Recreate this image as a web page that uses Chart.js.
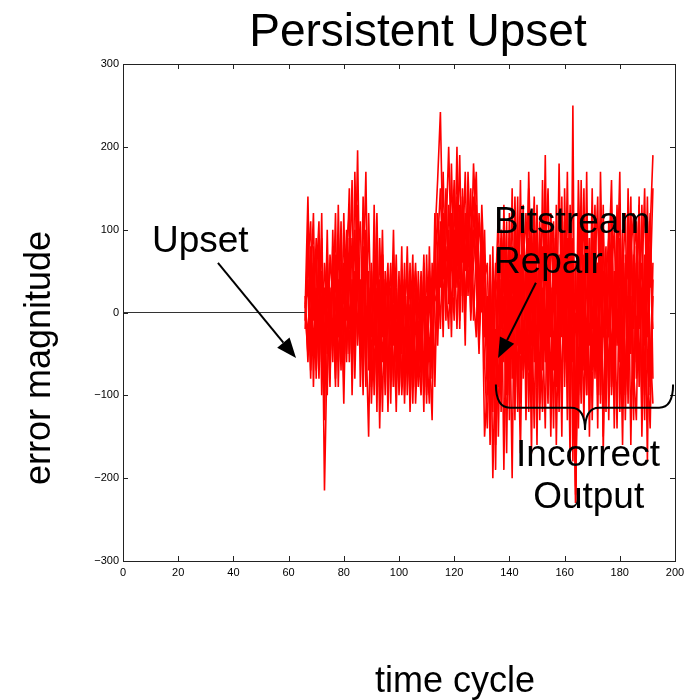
<!DOCTYPE html>
<html>
<head>
<meta charset="utf-8">
<script src="https://cdn.jsdelivr.net/npm/chart.js@4"></script>
<style>
  html, body { margin: 0; padding: 0; background: #fff; }
  #wrap { width: 690px; height: 700px; }
</style>
</head>
<body>
<div id="wrap"><canvas id="chart" width="690" height="700"></canvas></div>
<script>
// first time cycle of the red runs (one value per cycle after this)
const START_CYCLE = 66;

// flat error before the upset
const baseCycles = [0, 66];
const baseValues = [0, 0];

// error magnitude of each overlaid run, cycles 66..192
const run1 = [5, 140, -30, 60, -70, 20, 90, -215, -40, 30,
  -60, 70, -20, 110, -80, 40, 150, -50, 10, 196,
  -30, 80, -90, 50, -110, -10, 120, -60, 20, -100,
  40, -70, 10, -120, 30, -50, 60, -100, -20, 70,
  -110, -30, 50, -80, 20, -40, -130, 90, 160, 242,
  60, 140, 10, 180, 30, 200, -20, 150, 50, 110,
  0, 90, 130, -40, 60, -150, -90, -60, 40, -190,
  80, -120, 130, -60, 40, -200, 100, -40, 160, -80,
  20, 150, -100, 50, -160, 110, -30, 190, -70, 30,
  -140, 80, -20, 140, -90, 60, -180, 250, -230, 40,
  100, -70, 170, -120, 20, 130, -50, 80, -150, 60,
  -30, 120, -90, 40, 170, -110, 10, 90, -160, 50,
  -40, 140, -120, 70, -180, 100, 190];
const run2 = [-10, 60, 110, -50, 30, -80, 50, -20, -100, 70,
  20, -90, 130, -40, 60, -10, 90, -70, 170, 20,
  -50, 140, -20, -150, 60, -80, 30, -40, 100, -70,
  -10, 60, -90, 20, -60, 80, -110, 10, -70, 40,
  -20, -90, 30, -120, 70, -60, 10, 50, 120, 30,
  170, 20, 100, -30, 130, 70, 190, 0, 120, 60,
  150, -10, 80, 30, 110, -30, 20, -160, -20, 60,
  -150, 30, -50, 110, -130, 70, -20, 140, -110, 50,
  -60, 90, -170, 120, 10, -90, 160, -40, 80, -150,
  40, -60, 180, -30, 110, -130, 70, 10, -210, 120,
  -40, 150, -100, 60, -20, 90, -140, 170, -10, -90,
  110, -60, 30, -140, 80, 20, -100, 150, -30, 60,
  110, -90, 30, 150, -60, -140, 40];
const run3 = [20, -60, 30, 120, -80, 90, -40, 60, 0, -90,
  100, -30, 40, -70, 120, -50, 30, 160, -80, 60,
  110, -40, 60, 20, -90, 130, -60, 10, -120, 50,
  -80, 30, -40, 70, -100, -20, 40, -70, 60, -110,
  30, -50, -100, 20, -70, 40, -20, -60, 80, 150,
  40, 90, 200, 60, -10, 140, 50, 100, -40, 170,
  70, 20, -30, 120, 50, -60, -140, 10, -100, 30,
  120, -60, 20, -170, 90, -30, 60, -120, 30, 130,
  -130, 40, 70, -60, 130, -20, -120, 60, 150, -30,
  90, -160, 30, 60, -50, 170, -100, 40, -220, 70,
  -90, 40, 110, -150, 100, -30, 60, -60, 130, -120,
  60, 160, -50, 90, -120, 40, 120, -70, 20, -130,
  80, -20, 130, -100, 40, 120, -80];
const run4 = [-20, 100, -70, 20, 70, -40, 120, -130, 40, -50,
  -10, 120, -90, 50, 10, 100, -60, 40, -30, 130,
  -90, 30, 170, -70, 40, -40, 80, -140, 30, 0,
  60, -110, 50, -30, 20, -90, 10, 50, -120, -10,
  60, -70, -20, 40, -110, 80, -50, 20, 10, 100,
  -30, 150, 40, 120, 90, -20, 110, 60, 170, 20,
  100, 140, 40, -50, 90, 10, -100, 70, -200, -40,
  40, 90, -190, 60, -40, 150, -90, 20, -50, 100,
  50, -120, 30, 140, -80, 60, -10, -140, 100, 20,
  -70, 130, -120, 90, 20, -60, 130, -180, 60, -100,
  160, -20, -60, 90, -130, 50, 140, -100, 30, 80,
  -130, 50, 100, -40, 30, -160, 70, 40, 110, -70,
  -130, 60, 90, -40, 140, -90, 60];
const run5 = [0, -50, 80, -90, 40, 110, -100, 10, 70, -30,
  50, -80, 20, 90, -40, 80, 120, -100, 50, -20,
  40, -100, 100, 10, -60, 70, -120, 90, -30, 40,
  -120, 20, 70, -60, 50, -100, -30, 80, -60, 20,
  -80, 50, -60, 70, -40, -110, 60, -90, 60, -20,
  100, -10, 130, 70, 160, 30, 80, 130, 0, 90,
  40, 180, 100, -20, 20, 70, -30, -120, 80, -160,
  -40, 100, 50, -100, 120, -80, 140, -10, -170, 60,
  120, -20, -80, 100, 40, -130, 80, -20, -110, 120,
  30, -90, 70, -150, 150, -30, -60, 90, -230, 30,
  -110, 70, 20, -40, 150, -80, 30, 110, -170, 40,
  90, -100, -20, 130, -60, 100, -130, 30, 140, -100,
  40, 130, -150, 20, 80, -40, -110];
const run6 = [10, 30, -80, 50, -20, 60, 10, -60, 100, -80,
  80, 10, -60, 30, -110, 60, -20, 90, -50, 80,
  -10, 60, -50, 120, -30, 20, 60, -90, 70, -60,
  20, -40, 100, -80, -10, 40, -70, -40, 10, -80,
  50, 10, -80, 60, -90, 30, -60, 120, -40, 70,
  80, 30, -20, 100, 50, 120, -10, 140, 80, 40,
  60, 110, 170, 0, 130, 40, 60, -80, 20, -130,
  70, -20, 110, 30, -100, 80, -130, 100, 20, -70,
  -40, 170, 20, -140, 90, 40, -70, 120, -40, 60,
  110, -30, -80, 120, -20, 90, 40, -110, -90, 160,
  20, -130, 90, 30, -70, 110, -100, 20, 90, -50,
  -20, 80, -140, 60, 120, -40, 60, -110, 70, 120,
  -80, 20, 60, -130, 110, 30, 150];
const run7 = [0, 40, -40, 80, -30, 50, -60, 30, -50, 20,
  -40, 50, -30, 60, -20, 70, -50, 30, -60, 90,
  -40, 50, -70, 30, -20, 60, -80, 40, -60, 10,
  -70, 20, -90, 30, -60, 10, -100, -20, -80, 0,
  -90, -10, -70, 30, -100, -30, -60, 40, 20, 110,
  10, 80, 30, 110, 20, 90, 40, 120, 10, 70,
  30, 100, 50, 10, 90, 20, -40, 30, -80, -20,
  -90, 40, -60, 60, -70, 20, -100, 60, -50, 30,
  -80, 50, -40, 70, -90, 10, -60, 80, -100, 30,
  -50, 60, -90, 40, -60, 90, -30, 50, -120, 20,
  -70, 60, -40, 90, -60, 30, -90, 70, -30, 40,
  -80, 40, -60, 80, -40, 60, -90, 20, -50, 70,
  -60, 40, -100, 60, -30, 80, -20];
const run8 = [10, -30, 60, -10, 90, -60, 20, -80, 50, -10,
  60, -50, 90, -30, 40, -60, 70, -20, 100, -40,
  30, -60, 80, -30, 50, -100, 20, -50, 70, -30,
  10, -80, 40, -40, -90, 30, -60, 20, -100, -30,
  20, -60, 10, -90, -20, 50, -80, 60, -10, 80,
  120, 40, 70, 0, 100, 50, 130, 20, 90, 130,
  -10, 60, 110, 40, 0, 100, -60, 50, -120, 40,
  20, -80, 60, -30, 100, -50, 40, -90, 70, -40,
  60, -70, 100, -30, 50, -110, 30, -60, 40, -90,
  70, -40, 20, -100, 80, -70, 100, -60, 0, -140,
  50, -20, -100, 40, 80, -50, 60, -110, 50, -20,
  60, -90, 50, -30, 90, -70, 40, -60, 100, -20,
  60, -70, 30, -90, 60, -100, 20];

const runs = [run1, run2, run3, run4, run5, run6, run7, run8];

const xTicks = [0, 20, 40, 60, 80, 100, 120, 140, 160, 180, 200];
const yTicks = [-300, -200, -100, 0, 100, 200, 300];

Chart.defaults.font.family = '"Liberation Sans", Arial, Helvetica, sans-serif';
Chart.defaults.color = '#000';

// Frame with inward ticks on all sides
const FramePlugin = {
  id: 'frame',
  afterDraw(chart) {
    const { ctx, chartArea: a, scales: { x, y } } = chart;
    ctx.save();
    ctx.strokeStyle = '#222';
    ctx.lineWidth = 1;
    ctx.strokeRect(a.left + 0.5, a.top + 0.5, a.right - a.left, a.bottom - a.top);
    ctx.beginPath();
    xTicks.forEach(v => {
      const px = Math.round(x.getPixelForValue(v)) + 0.5;
      ctx.moveTo(px, a.bottom); ctx.lineTo(px, a.bottom - 5);
      ctx.moveTo(px, a.top); ctx.lineTo(px, a.top + 5);
    });
    yTicks.forEach(v => {
      const py = Math.round(y.getPixelForValue(v)) + 0.5;
      ctx.moveTo(a.left, py); ctx.lineTo(a.left + 5, py);
      ctx.moveTo(a.right, py); ctx.lineTo(a.right - 5, py);
    });
    ctx.stroke();
    ctx.restore();
  }
};

function arrow(ctx, x0, y0, x1, y1) {
  const ang = Math.atan2(y1 - y0, x1 - x0);
  const len = 20, half = 8;
  const bx = x1 - len * Math.cos(ang), by = y1 - len * Math.sin(ang);
  ctx.beginPath();
  ctx.moveTo(x0, y0);
  ctx.lineTo(bx, by);
  ctx.stroke();
  ctx.beginPath();
  ctx.moveTo(x1, y1);
  ctx.lineTo(bx + half * Math.sin(ang), by - half * Math.cos(ang));
  ctx.lineTo(bx - half * Math.sin(ang), by + half * Math.cos(ang));
  ctx.closePath();
  ctx.fill();
}

const NotesPlugin = {
  id: 'notes',
  afterDraw(chart) {
    const { ctx, scales: { x, y } } = chart;
    const px = v => x.getPixelForValue(v);
    const py = v => y.getPixelForValue(v);
    ctx.save();
    ctx.fillStyle = '#000';
    ctx.strokeStyle = '#000';
    ctx.lineWidth = 2;

    // title + axis labels
    ctx.textBaseline = 'alphabetic';
    ctx.textAlign = 'center';
    ctx.font = '46px "Liberation Sans", Arial, sans-serif';
    ctx.fillText('Persistent Upset', 418, 46);
    ctx.font = '36px "Liberation Sans", Arial, sans-serif';
    ctx.fillText('time cycle', 455, 692);
    ctx.save();
    ctx.translate(50, 358);
    ctx.rotate(-Math.PI / 2);
    ctx.fillText('error magnitude', 0, 0);
    ctx.restore();

    // annotations, placed in data coordinates
    ctx.textAlign = 'left';
    ctx.font = '37px "Liberation Sans", Arial, sans-serif';
    ctx.fillText('Upset', px(10.5), py(73));
    ctx.fillText('Bitstream', px(134.4), py(96));
    ctx.fillText('Repair', px(134.4), py(48));
    ctx.fillText('Incorrect', px(142.4), py(-185));
    ctx.fillText('Output', px(148.6), py(-236));

    arrow(ctx, px(34.4), py(60), px(62.7), py(-55));
    arrow(ctx, px(149.6), py(36), px(135.9), py(-55));

    // curly brace under the repaired region
    const x1 = px(135.1), x2 = px(199.3), xm = px(167.4);
    const yTop = py(-87), yMid = py(-115), yTip = py(-142);
    const r = 14;
    ctx.beginPath();
    ctx.moveTo(x1, yTop);
    ctx.quadraticCurveTo(x1, yMid, x1 + r, yMid);
    ctx.lineTo(xm - r, yMid);
    ctx.quadraticCurveTo(xm, yMid, xm, yTip);
    ctx.quadraticCurveTo(xm, yMid, xm + r, yMid);
    ctx.lineTo(x2 - r, yMid);
    ctx.quadraticCurveTo(x2, yMid, x2, yTop);
    ctx.stroke();
    ctx.restore();
  }
};

const datasets = [{
  label: 'before upset',
  data: baseCycles.map((c, i) => ({ x: c, y: baseValues[i] })),
  borderColor: '#333',
  borderWidth: 1
}];
runs.forEach((run, k) => {
  datasets.push({
    label: 'run ' + (k + 1),
    data: run.map((v, i) => ({ x: START_CYCLE + i, y: v })),
    borderColor: '#ff0000',
    borderWidth: 1.6
  });
});

new Chart(document.getElementById('chart'), {
  type: 'line',
  data: { datasets },
  options: {
    responsive: false,
    animation: false,
    events: [],
    layout: { padding: { left: 0, right: 15, top: 64, bottom: 119 } },
    elements: { point: { radius: 0 }, line: { tension: 0 } },
    plugins: {
      legend: { display: false },
      tooltip: { enabled: false },
      title: { display: false }
    },
    scales: {
      x: {
        type: 'linear',
        min: 0,
        max: 200,
        afterFit: s => { s.height = 20; },
        grid: { display: false, drawTicks: false },
        border: { display: false },
        ticks: { stepSize: 20, padding: 5, font: { size: 11 }, maxRotation: 0 }
      },
      y: {
        min: -300,
        max: 300,
        afterFit: s => { s.width = 123; },
        grid: { display: false, drawTicks: false },
        border: { display: false },
        ticks: {
          stepSize: 100,
          padding: 4,
          font: { size: 11 },
          callback: v => String(v).replace('-', '\u2212')
        }
      }
    }
  },
  plugins: [FramePlugin, NotesPlugin]
});
</script>
</body>
</html>
